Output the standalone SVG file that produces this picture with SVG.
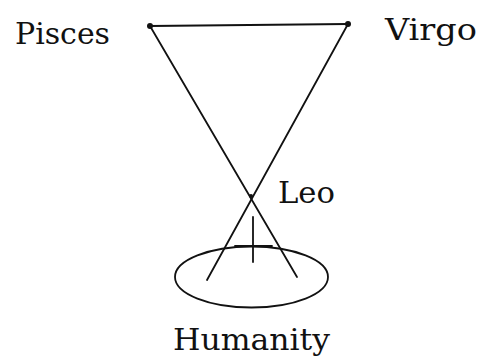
<svg xmlns="http://www.w3.org/2000/svg" width="484" height="356" viewBox="0 0 484 356">
<style>
.bg{fill:#ffffff}
.ln{stroke:#111;stroke-width:1.8;fill:none;stroke-linecap:round}
.pt{fill:#111}
.lbl{font-family:"DejaVu Serif","Liberation Serif",serif;font-size:29px;fill:#111}
</style>
<rect class="bg" x="0" y="0" width="484" height="356"/>
<g id="connectors">
<line class="ln" x1="150" y1="26" x2="348" y2="24"/>
<line class="ln" x1="150" y1="26" x2="297" y2="277"/>
<line class="ln" x1="348" y1="24" x2="207" y2="280"/>
</g>
<g id="pisces">
<circle class="pt" cx="150" cy="26" r="3"/>
<text class="lbl" x="15" y="44" textLength="95" lengthAdjust="spacingAndGlyphs">Pisces</text>
</g>
<g id="virgo">
<circle class="pt" cx="348" cy="24" r="3"/>
<text class="lbl" x="385" y="40" textLength="92" lengthAdjust="spacingAndGlyphs">Virgo</text>
</g>
<g id="leo">
<circle class="pt" cx="251" cy="196" r="2"/>
<text class="lbl" x="278" y="203" textLength="57" lengthAdjust="spacingAndGlyphs">Leo</text>
</g>
<g id="humanity">
<ellipse class="ln" cx="251.5" cy="277" rx="76.5" ry="30.5"/>
<line class="ln" x1="253" y1="217" x2="253" y2="262"/>
<line class="ln" x1="235" y1="246" x2="272" y2="246"/>
<text class="lbl" x="173" y="350" textLength="157" lengthAdjust="spacingAndGlyphs">Humanity</text>
</g>
</svg>
